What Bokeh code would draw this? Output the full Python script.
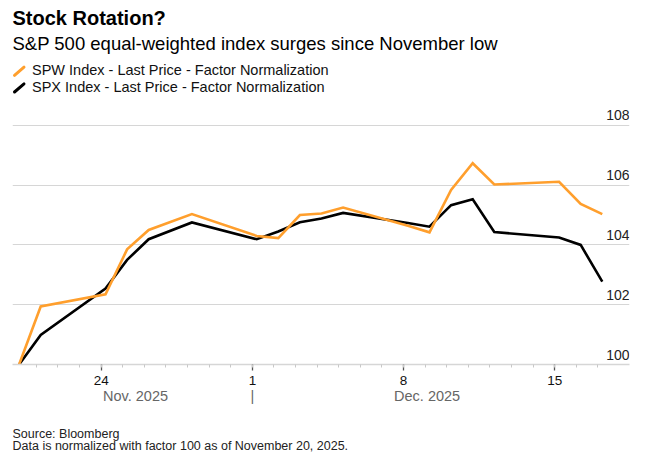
import pandas as pd
from bokeh.plotting import figure
from bokeh.layouts import column
from bokeh.models import Range1d, FixedTicker, LinearAxis
from bokeh.core.properties import value
from bokeh.embed import file_html
from bokeh.resources import INLINE

# ---------------- data ----------------
dates = ["2025-11-20", "2025-11-21", "2025-11-24", "2025-11-25", "2025-11-26",
         "2025-11-28", "2025-12-01", "2025-12-02", "2025-12-03", "2025-12-04",
         "2025-12-05", "2025-12-08", "2025-12-09", "2025-12-10", "2025-12-11",
         "2025-12-12", "2025-12-15", "2025-12-16", "2025-12-17"]
spw = [100.0, 101.94, 102.35, 103.85, 104.50, 105.03, 104.30, 104.23, 105.00, 105.05,
       105.25, 104.64, 104.42, 105.84, 106.73, 106.02, 106.11, 105.37, 105.03]
spx = [100.0, 100.99, 102.54, 103.50, 104.19, 104.75, 104.19, 104.45, 104.76, 104.88,
       105.07, 104.73, 104.61, 105.33, 105.53, 104.43, 104.25, 104.00, 102.77]

series_names = ["SPW Index - Last Price - Factor Normalization",
                "SPX Index - Last Price - Factor Normalization"]
y_ticks = [100, 102, 104, 106, 108]
x_tick_dates = ["2025-11-24", "2025-12-01", "2025-12-08", "2025-12-15"]
x_tick_labels = ["24", "1", "8", "15"]
month_labels = ["Nov. 2025", "|", "Dec. 2025"]

title = "Stock Rotation?"
subtitle = "S&P 500 equal-weighted index surges since November low"
footer = ["Source: Bloomberg", "Data is normalized with factor 100 as of November 20, 2025."]

# ---------------- styling ----------------
FONT = "Liberation Sans"
ORANGE = "#ff9f2d"
BLACK = "#000000"
W = 640
FL, FW = 12, 617          # frame left edge and width (page px)
FR = W - FL - FW          # right border
MID = 0.37                # baseline offset (em) for text drawn with 'middle'
origin = pd.Timestamp(dates[0])
DATA_SHIFT = 0.2          # data points plotted slightly after the day tick


def day(d):
    return (pd.Timestamp(d) - origin).days


def mid_y(baseline, size):
    return baseline - MID * size


xs = [day(d) + DATA_SHIFT for d in dates]
major_days = [day(d) for d in x_tick_dates]
minor_days = list(range(1, day(dates[-1]) + 1))
month_pos = [5.59, day("2025-12-01"), 19.09]


def text_panel(height):
    f = figure(width=W, height=height, x_range=Range1d(FL, FL + FW),
               y_range=Range1d(height, 0), output_backend="svg",
               toolbar_location=None, x_axis_location=None, y_axis_location=None,
               min_border_left=FL, min_border_right=FR, min_border_top=0,
               min_border_bottom=0, outline_line_color=None)
    f.grid.visible = False
    return f


# ---------------- header ----------------
HH = 100
hdr = text_panel(HH)
hdr.text(x=[12], y=[mid_y(25, 20)], text=[title], text_font=value(FONT),
         text_font_size="20px", text_font_style="bold", text_baseline="middle",
         text_color="#000000")
hdr.text(x=[12], y=[mid_y(50, 18.5)], text=[subtitle], text_font=value(FONT),
         text_font_size="18.5px", text_baseline="middle", text_color="#000000")
leg_base = [75.3, 92.0]
hdr.text(x=[31.5, 31.5], y=[mid_y(b, 14.5) for b in leg_base], text=series_names,
         text_font=value(FONT), text_font_size="14.5px", text_baseline="middle",
         text_color="#111111")
hdr.segment(x0=[14, 14], y0=[b - 0.5 for b in leg_base], x1=[23.5, 23.5],
            y1=[b - 8.6 for b in leg_base], line_color=[ORANGE, BLACK], line_width=3,
            line_cap="round")

# ---------------- main chart ----------------
x_start, x_end = -0.106, 28.46
p = figure(frame_width=FW, frame_height=264,
           x_range=Range1d(x_start, x_end), y_range=Range1d(100, 108.83),
           output_backend="svg", toolbar_location=None, y_axis_location=None,
           min_border_left=FL, min_border_right=FR, min_border_top=0,
           min_border_bottom=46, outline_line_color=None)
p.xgrid.visible = False
p.ygrid.ticker = FixedTicker(ticks=y_ticks)
p.ygrid.grid_line_color = "#d6d6d6"
p.ygrid.grid_line_width = 1.2

ax = p.xaxis[0]
ax.ticker = FixedTicker(ticks=major_days, minor_ticks=minor_days)
ax.major_label_overrides = {d: lab for d, lab in zip(major_days, x_tick_labels)}
ax.axis_line_color = "#d6d6d6"
ax.axis_line_width = 1.5
ax.major_tick_line_color = "#555555"
ax.major_tick_line_width = 1.3
ax.major_tick_out = 6
ax.major_tick_in = 0
ax.minor_tick_line_color = "#c8c8c8"
ax.minor_tick_out = 3
ax.minor_tick_in = 0
ax.major_label_standoff = 5
ax.major_label_text_font = FONT
ax.major_label_text_font_size = "13.5px"
ax.major_label_text_color = "#111111"

month_ax = LinearAxis(ticker=FixedTicker(ticks=month_pos, minor_ticks=[]),
                      major_label_overrides={v: lab for v, lab in zip(month_pos, month_labels)},
                      axis_line_color=None, major_tick_line_color=None,
                      minor_tick_line_color=None, major_label_standoff=-6,
                      major_label_text_font=FONT, major_label_text_font_size="14.5px",
                      major_label_text_color="#666666")
p.add_layout(month_ax, "below")

p.text(x=[x_end] * len(y_ticks), y=y_ticks, text=[str(t) for t in y_ticks],
       text_align="right", text_baseline="middle", y_offset=-10,
       text_font=value(FONT), text_font_size="14px", text_color="#222222")

p.line(xs, spx, line_color=BLACK, line_width=2.6, line_join="miter")
p.line(xs, spw, line_color=ORANGE, line_width=2.6, line_join="miter")

# ---------------- footer ----------------
FH = 46
FT = 410  # page y of footer top
ftr = text_panel(FH)
ftr.text(x=[12, 12], y=[mid_y(438, 12.5) - FT, mid_y(450.5, 12.5) - FT], text=footer,
         text_font=value(FONT), text_font_size="12.5px", text_baseline="middle",
         text_color="#222222")

layout = column(hdr, p, ftr, spacing=0)
open("out.html", "w").write(file_html(layout, INLINE))
